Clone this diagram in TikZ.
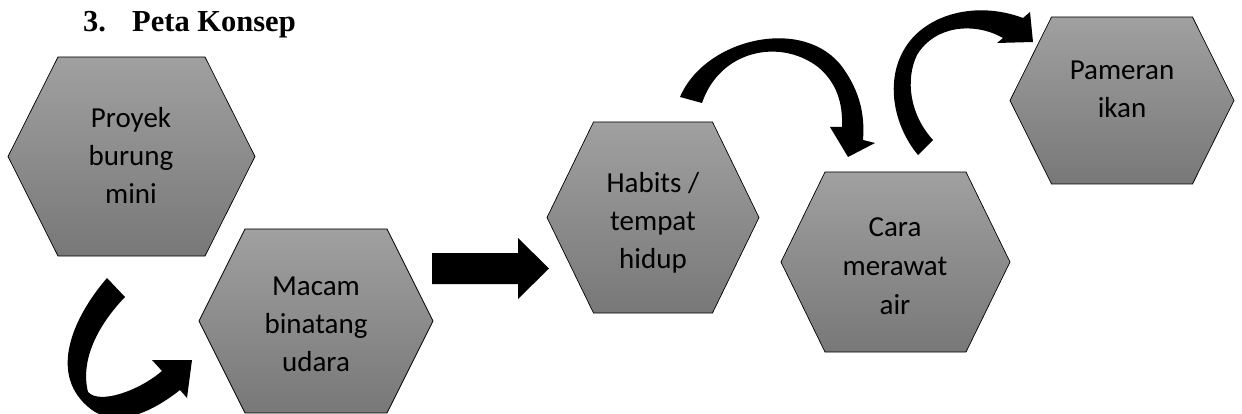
\documentclass[tikz,border=0pt]{standalone}
\usepackage{fontspec}
\setmainfont{Carlito}
\newfontfamily\titlefont{Liberation Serif}
\definecolor{hextop}{RGB}{160,160,160}
\definecolor{hexbot}{RGB}{120,120,120}
\newcommand\hexshape[6]{% name, cx, cy, halfw, halftop, halfh
  \shadedraw[hexstyle] (#2-#4,#3) -- (#2-#5,#3-#6) -- (#2+#5,#3-#6) -- (#2+#4,#3) -- (#2+#5,#3+#6) -- (#2-#5,#3+#6) -- cycle;
  \coordinate (#1) at (#2,#3);}
\tikzset{
  hexstyle/.style={top color=hextop,bottom color=hexbot,draw=black,line width=0.7pt},
  hextext/.style={align=center,inner sep=0pt,font={\fontsize{29}{38}\selectfont},text=black},
  bigarrow/.style={fill=black,draw=none}
}
\begin{document}
\begin{tikzpicture}[x=1pt,y=-1pt]
\useasboundingbox (0,0) rectangle (1242,414);
% title
\node[anchor=base west,inner sep=0pt,font={\titlefont\bfseries\fontsize{30.5}{36}\selectfont}] (num) at (83,32) {3.};
\node[anchor=base west,inner sep=0pt,font={\titlefont\bfseries\fontsize{30.5}{36}\selectfont}] (title) at (132,32) {Peta Konsep};
% hexagons
\hexshape{h1}{131.5}{156.5}{123.5}{73.5}{99.5}
\hexshape{h2}{316}{321}{117}{71}{92}
\hexshape{h3}{653}{217.5}{106}{59.5}{95.5}
\hexshape{h4}{895.5}{262}{114.5}{70.5}{90}
\hexshape{h5}{1122}{100.5}{112}{70.5}{83.5}
% texts
\node[hextext] (t1) at (131,155) {Proyek\\burung\\mini};
\node[hextext] (t2) at (316,324) {Macam\\binatang\\udara};
\node[hextext] (t3) at (653,222.5) {Habits /\\tempat\\hidup};
\node[hextext,font={\fontsize{29}{39}\selectfont}] (t4) at (895,266.5) {Cara\\merawat\\air};
\node[hextext] (t5) at (1122,89.5) {Pameran\\ikan};
% arrow 1 (curved, below h1 to h2)
\fill[bigarrow] (107,278) .. controls (75,315) and (45,375) .. (92,410)
  .. controls (118,428) and (152,412) .. (180,390)
  -- (187,398) -- (192,360) -- (152,360) -- (162,371)
  .. controls (140,390) and (100,405) .. (88,392)
  .. controls (80,360) and (98,325) .. (125,297) -- cycle;
% arrow 2 (block right arrow)
\fill[bigarrow] (432,253) -- (518,253) -- (518,238) -- (549,268.5) -- (518,299) -- (518,284) -- (432,284) -- cycle;
% arrow 3 (curved, above h3 to h4)
\fill[bigarrow] (680,97) .. controls (705,38) and (805,15) .. (843,68)
  .. controls (860,92) and (865,115) .. (863,140)
  -- (875,143) -- (848,157) -- (830,127) -- (842,127)
  .. controls (843,102) and (836,82) .. (818,67)
  .. controls (780,38) and (720,50) .. (702,103) -- cycle;
% arrow 4 (curved, top of h4 to h5)
\fill[bigarrow] (918,155) .. controls (893,125) and (885,80) .. (905,48)
  .. controls (925,15) and (975,0) .. (1023,18)
  -- (1030,12) -- (1033,42) -- (997,43) -- (1003,38)
  .. controls (975,22) and (935,25) .. (917,55)
  .. controls (905,80) and (910,115) .. (933,140) -- cycle;
\end{tikzpicture}
\end{document}
